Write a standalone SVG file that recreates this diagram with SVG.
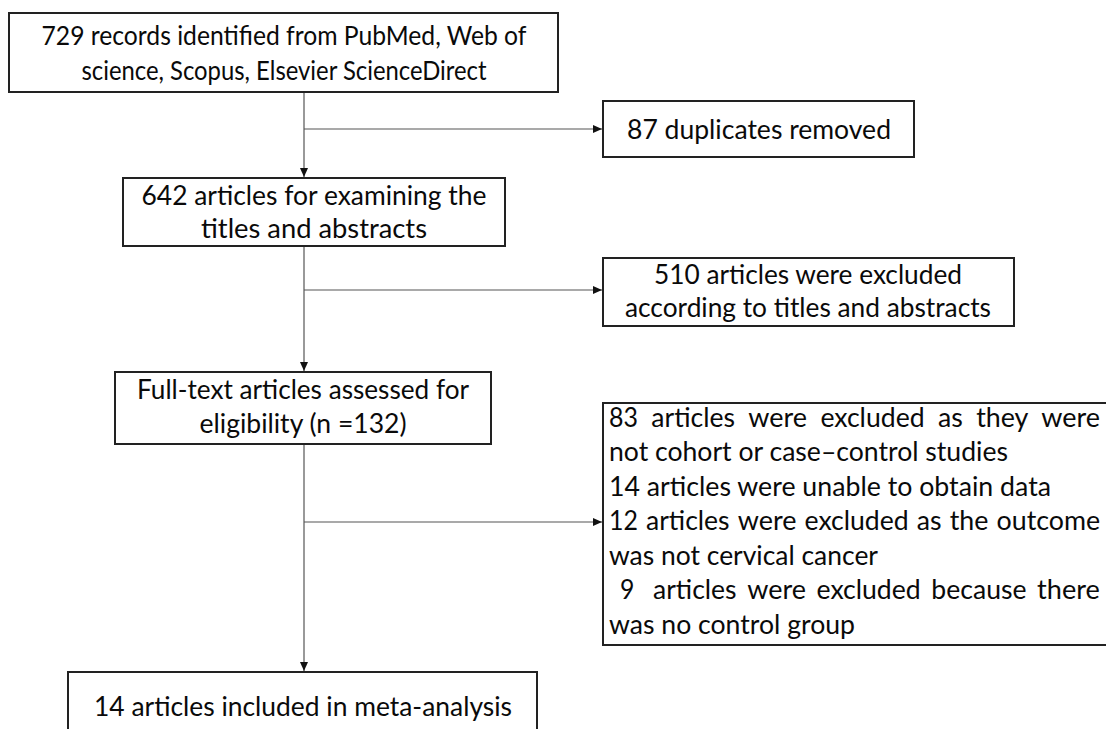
<svg xmlns="http://www.w3.org/2000/svg" width="1106" height="729" viewBox="0 0 1106 729">
<style>
.box{fill:#fff;stroke:#222;stroke-width:2}
.t{font-family:Lato,"Open Sans","Liberation Sans",sans-serif;font-size:27px;fill:#0a0a0a}
.s{font-size:26.5px}
.c{text-anchor:middle}
.con{stroke:#555;stroke-width:1.2;fill:none}
</style>
<defs>
<marker id="ah" markerUnits="userSpaceOnUse" markerWidth="10" markerHeight="9" refX="9" refY="4" orient="auto">
<path d="M0,0 L9,4 L0,8 z" fill="#111"/>
</marker>
</defs>
<rect width="1106" height="729" fill="#fff"/>
<g id="connectors">
<line class="con" x1="304" y1="92" x2="304" y2="177" marker-end="url(#ah)"/>
<line class="con" x1="304" y1="129" x2="602" y2="129" marker-end="url(#ah)"/>
<line class="con" x1="304" y1="246" x2="304" y2="371" marker-end="url(#ah)"/>
<line class="con" x1="304" y1="290" x2="602" y2="290" marker-end="url(#ah)"/>
<line class="con" x1="304" y1="444" x2="304" y2="671" marker-end="url(#ah)"/>
<line class="con" x1="304" y1="522" x2="602" y2="522" marker-end="url(#ah)"/>
</g>
<g id="n1">
<rect class="box" x="9" y="13" width="549" height="79"/>
<text class="t s c" x="284" y="45" textLength="485" lengthAdjust="spacingAndGlyphs">729 records identified from PubMed, Web of</text>
<text class="t s c" x="284" y="80" textLength="405" lengthAdjust="spacingAndGlyphs">science, Scopus, Elsevier ScienceDirect</text>
</g>
<g id="n2">
<rect class="box" x="603" y="101" width="311" height="56"/>
<text class="t c" x="759" y="139" textLength="264" lengthAdjust="spacingAndGlyphs">87 duplicates removed</text>
</g>
<g id="n3">
<rect class="box" x="123" y="178" width="382" height="68"/>
<text class="t c" x="314" y="205" textLength="345" lengthAdjust="spacingAndGlyphs">642 articles for examining the</text>
<text class="t c" x="314" y="238" textLength="226" lengthAdjust="spacingAndGlyphs">titles and abstracts</text>
</g>
<g id="n4">
<rect class="box" x="603" y="258" width="411" height="68"/>
<text class="t c" x="808" y="284" textLength="308" lengthAdjust="spacingAndGlyphs">510 articles were excluded</text>
<text class="t c" x="808" y="317" textLength="366" lengthAdjust="spacingAndGlyphs">according to titles and abstracts</text>
</g>
<g id="n5">
<rect class="box" x="115" y="372" width="376" height="72"/>
<text class="t c" x="303" y="399" textLength="332" lengthAdjust="spacingAndGlyphs">Full-text articles assessed for</text>
<text class="t c" x="303" y="433" textLength="207" lengthAdjust="spacingAndGlyphs">eligibility (n =132)</text>
</g>
<g id="n6">
<rect class="box" x="603" y="403" width="506" height="242"/>
<text class="t" y="427"><tspan x="609" textLength="28.9" lengthAdjust="spacingAndGlyphs">83</tspan> <tspan x="651.3" textLength="83.6" lengthAdjust="spacingAndGlyphs">articles</tspan> <tspan x="748.3" textLength="58.7" lengthAdjust="spacingAndGlyphs">were</tspan> <tspan x="820.4" textLength="104.2" lengthAdjust="spacingAndGlyphs">excluded</tspan> <tspan x="938" textLength="24.8" lengthAdjust="spacingAndGlyphs">as</tspan> <tspan x="976.2" textLength="51.6" lengthAdjust="spacingAndGlyphs">they</tspan> <tspan x="1041.2" textLength="58.7" lengthAdjust="spacingAndGlyphs">were</tspan></text>
<text class="t" x="609" y="461" textLength="399" lengthAdjust="spacingAndGlyphs">not cohort or case–control studies</text>
<text class="t" x="609" y="496" textLength="442" lengthAdjust="spacingAndGlyphs">14 articles were unable to obtain data</text>
<text class="t" y="530"><tspan x="609" textLength="28.9" lengthAdjust="spacingAndGlyphs">12</tspan> <tspan x="646" textLength="83.6" lengthAdjust="spacingAndGlyphs">articles</tspan> <tspan x="737.7" textLength="58.7" lengthAdjust="spacingAndGlyphs">were</tspan> <tspan x="804.5" textLength="104.2" lengthAdjust="spacingAndGlyphs">excluded</tspan> <tspan x="916.8" textLength="24.8" lengthAdjust="spacingAndGlyphs">as</tspan> <tspan x="949.7" textLength="38.7" lengthAdjust="spacingAndGlyphs">the</tspan> <tspan x="996.5" textLength="103.6" lengthAdjust="spacingAndGlyphs">outcome</tspan></text>
<text class="t" x="609" y="565" textLength="269" lengthAdjust="spacingAndGlyphs">was not cervical cancer</text>
<text class="t" y="599"><tspan x="620" textLength="14.4" lengthAdjust="spacingAndGlyphs">9</tspan> <tspan x="653" textLength="83.6" lengthAdjust="spacingAndGlyphs">articles</tspan> <tspan x="747.2" textLength="58.7" lengthAdjust="spacingAndGlyphs">were</tspan> <tspan x="816.5" textLength="104.2" lengthAdjust="spacingAndGlyphs">excluded</tspan> <tspan x="931.3" textLength="95.2" lengthAdjust="spacingAndGlyphs">because</tspan> <tspan x="1037.1" textLength="62.8" lengthAdjust="spacingAndGlyphs">there</tspan></text>
<text class="t" x="609" y="634" textLength="246" lengthAdjust="spacingAndGlyphs">was no control group</text>
</g>
<g id="n7">
<rect class="box" x="68" y="672" width="469" height="70"/>
<text class="t c" x="303" y="716" textLength="418" lengthAdjust="spacingAndGlyphs">14 articles included in meta-analysis</text>
</g>
</svg>
